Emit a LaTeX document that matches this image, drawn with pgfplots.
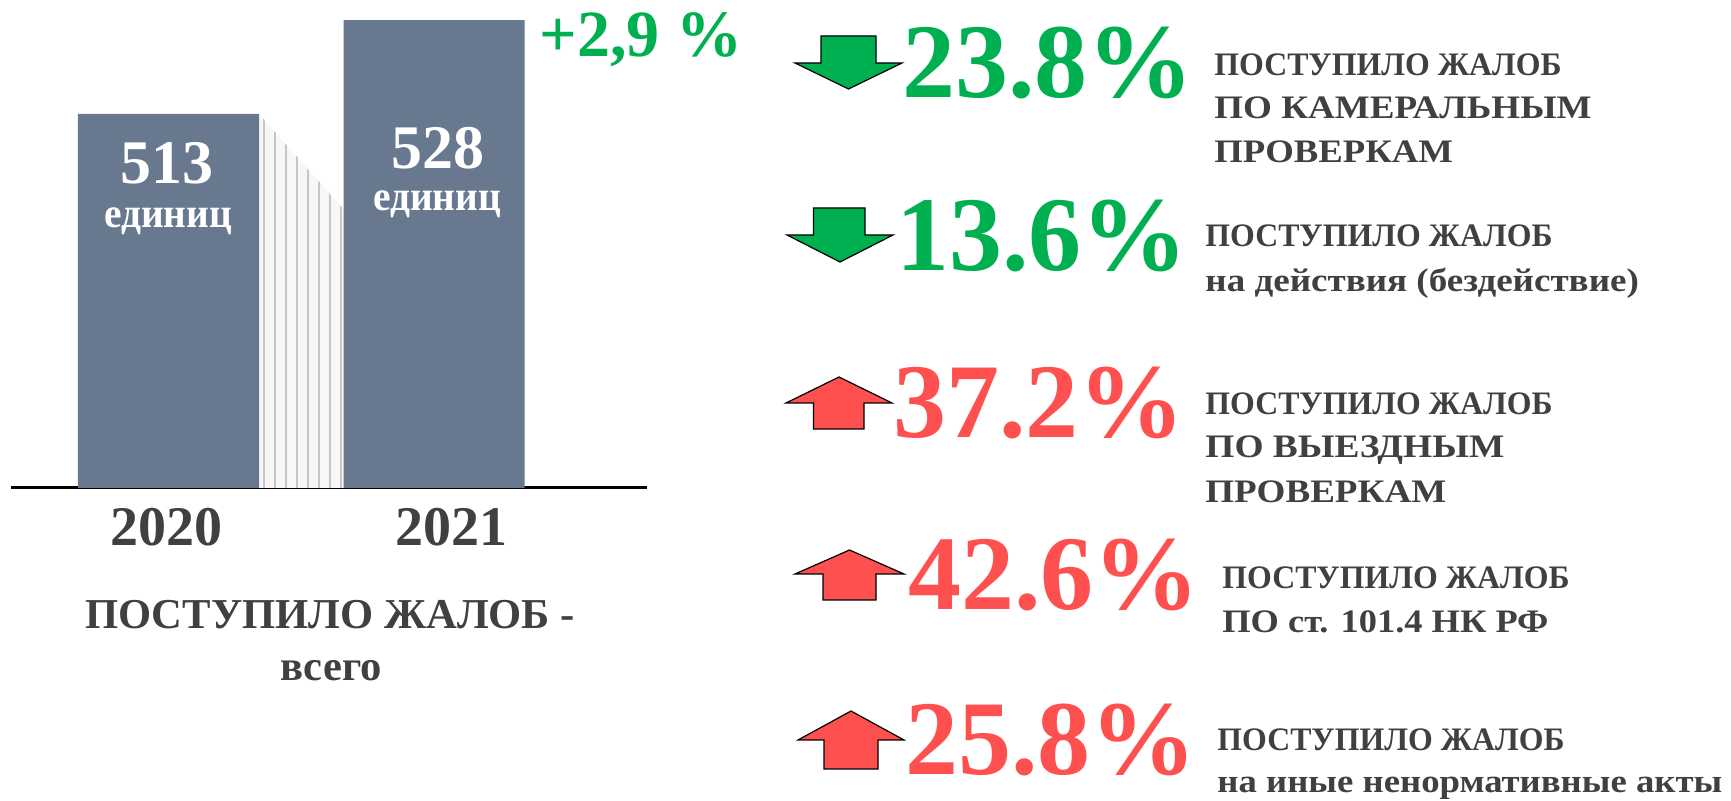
\documentclass[border=0pt]{standalone}
\usepackage{fontspec}
\setmainfont{Liberation Serif}
\usepackage{graphicx}
\usepackage{pgfplots}
\pgfplotsset{compat=1.18}
\usetikzlibrary{patterns.meta}
\definecolor{barcol}{HTML}{67788F}
\definecolor{upgreen}{HTML}{00B050}
\definecolor{upred}{HTML}{FF5050}
\definecolor{txt}{HTML}{404040}
\newcommand\fs[1]{\fontsize{#1}{#1}\selectfont\bfseries}
\newcommand\hs[2]{\scalebox{#1}[1]{#2}}
\begin{document}
\begin{tikzpicture}[x=0.5pt,y=-0.5pt]
\path[use as bounding box] (0,0) rectangle (1731,801);
\begin{axis}[at={(5.5pt,-244pt)}, anchor=south west,
  scale only axis, width=318pt, height=234pt,
  xmin=11, xmax=647, ymin=453.3, ymax=528,
  axis x line*=bottom, axis y line=none,
  x axis line style={line width=1.5pt, black, -},
  xtick={166,451}, xticklabels={2020,2021},
  major tick length=0pt,
  xticklabel style={anchor=base, yshift=-29pt, font=\fs{28}, text=txt, inner sep=0pt},
  ytick=\empty]
\addplot[sharp plot, draw=none, fill=gray!6,
  postaction={pattern={Lines[angle=90,distance=5.5pt,line width=1.3pt]}, pattern color=gray!45}]
  coordinates {(259,453.3) (259,513) (348,497) (348,453.3)} -- cycle;
\addplot[ybar, bar width=90.5pt, bar shift=0pt, fill=barcol, draw=none]
  coordinates {(168.5,513) (434,528)};
\end{axis}
% labels in bars
\begin{scope}[every node/.style={inner sep=0pt, anchor=base}]
\node[text=white, font=\fs{31}] at (167,184) {513};
\node[text=white, font=\fs{21}] at (168,228) {\hs{0.94}{единиц}};
\node[text=white, font=\fs{31}] at (438,169) {528};
\node[text=white, font=\fs{21}] at (437,211) {\hs{0.94}{единиц}};
\node[text=txt, font=\fs{21.3}] at (330,629) {ПОСТУПИЛО ЖАЛОБ -};
\node[text=txt, font=\fs{21.3}] at (331,681) {всего};
\end{scope}
\begin{scope}[every node/.style={inner sep=0pt, anchor=base west}]
\node[text=upgreen, font=\fs{33}] at (539,57) {+2,9 \%};
% big percents
\node[text=upgreen, font=\fs{53}] at (902,98) {23.8\%};
\node[text=upgreen, font=\fs{53}] at (896,271) {13.6\%};
\node[text=upred, font=\fs{53}] at (893,438) {37.2\%};
\node[text=upred, font=\fs{53}] at (908,610) {42.6\%};
\node[text=upred, font=\fs{53}] at (905,775) {25.8\%};
% descriptions
\node[text=txt, font=\fs{16.4}] at (1214,76) {\hs{0.97}{ПОСТУПИЛО ЖАЛОБ}};
\node[text=txt, font=\fs{16.4}] at (1214,119) {\hs{1.13}{ПО КАМЕРАЛЬНЫМ}};
\node[text=txt, font=\fs{16.4}] at (1214,163) {\hs{1.12}{ПРОВЕРКАМ}};
\node[text=txt, font=\fs{16.4}] at (1205,247) {\hs{0.97}{ПОСТУПИЛО ЖАЛОБ}};
\node[text=txt, font=\fs{16.4}] at (1205,292) {\hs{1.13}{на действия (бездействие)}};
\node[text=txt, font=\fs{16.4}] at (1205,415) {\hs{0.97}{ПОСТУПИЛО ЖАЛОБ}};
\node[text=txt, font=\fs{16.4}] at (1205,458) {\hs{1.14}{ПО ВЫЕЗДНЫМ}};
\node[text=txt, font=\fs{16.4}] at (1205,503) {\hs{1.13}{ПРОВЕРКАМ}};
\node[text=txt, font=\fs{16.4}] at (1222,589) {\hs{0.97}{ПОСТУПИЛО ЖАЛОБ}};
\node[text=txt, font=\fs{16.4}] at (1222,633) {\hs{1.11}{ПО ст. 101.4 НК РФ}};
\node[text=txt, font=\fs{16.4}] at (1217,751) {\hs{0.97}{ПОСТУПИЛО ЖАЛОБ}};
\node[text=txt, font=\fs{16.4}] at (1217,793) {\hs{1.12}{на иные ненормативные акты}};
\end{scope}
% arrows
\begin{scope}[line width=0.6pt, draw=black]
\draw[fill=upgreen] (821,36) -- (876,36) -- (876,63) -- (902,63) -- (848.5,89) -- (795,63) -- (821,63) -- cycle;
\draw[fill=upgreen] (813.5,208) -- (865,208) -- (865,235) -- (893,235) -- (840,262) -- (787,235) -- (813.5,235) -- cycle;
\draw[fill=upred] (839,377) -- (892,403) -- (864,403) -- (864,429) -- (813.5,429) -- (813.5,403) -- (786,403) -- cycle;
\draw[fill=upred] (849.5,550) -- (904,574) -- (876,574) -- (876,600) -- (823,600) -- (823,574) -- (795,574) -- cycle;
\draw[fill=upred] (851,711) -- (904,740) -- (878,740) -- (878,769) -- (824,769) -- (824,740) -- (798,740) -- cycle;
\end{scope}
\end{tikzpicture}
\end{document}
